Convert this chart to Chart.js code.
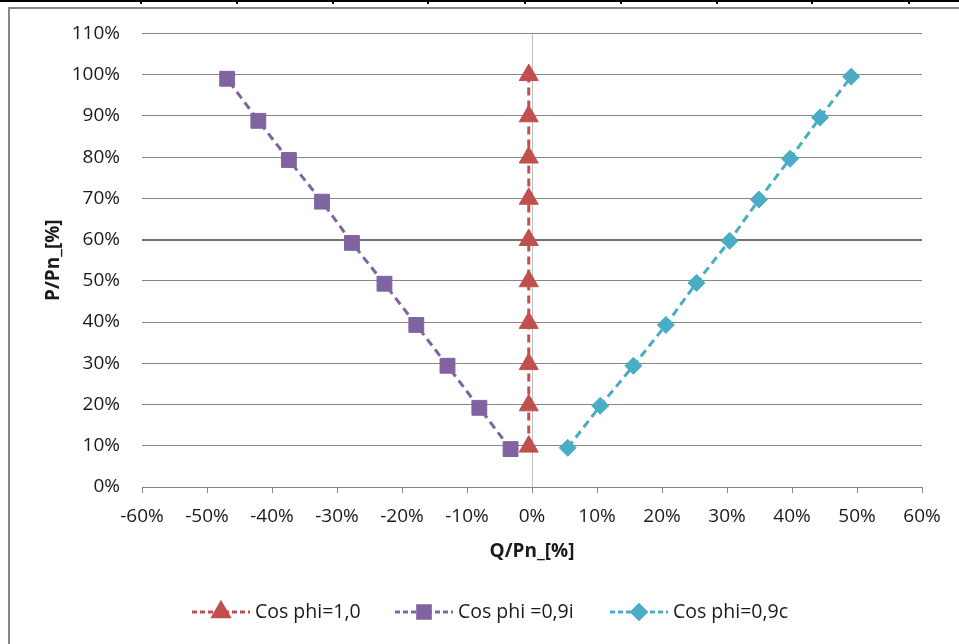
<!DOCTYPE html>
<html>
<head>
<meta charset="utf-8">
<script src="https://cdn.jsdelivr.net/npm/chart.js@4/dist/chart.umd.min.js"></script>
<style>
  body { margin: 0; background: #fff; }
  #page { position: relative; width: 959px; height: 644px; overflow: hidden; }
  #rule { position: absolute; left: 0; top: 0; width: 959px; height: 2px; background: #000; }
  .cell { position: absolute; top: 0; width: 2px; height: 4px; background: #000; }
  #frame { position: absolute; left: 8px; top: 7px; width: 1000px; height: 700px;
           border-left: 2px solid #878787; border-top: 2px solid #878787; }
  #chart { position: absolute; left: 0; top: 0; }
</style>
</head>
<body>
<div id="page">
  <div id="rule"></div>
  <div id="frame"></div>
  <canvas id="chart" width="959" height="644"></canvas>
</div>
<script>
// values (percent of Pn)
const qCos10  = [-0.5, -0.5, -0.5, -0.5, -0.5, -0.5, -0.5, -0.5, -0.5, -0.5];
const pCos10  = [9.8, 19.8, 29.8, 39.8, 49.9, 59.9, 69.9, 79.9, 89.9, 99.9];
const qCos09i = [-3.3, -8.1, -13.0, -17.8, -22.7, -27.7, -32.3, -37.4, -42.1, -46.9];
const pCos09i = [9.2, 19.2, 29.4, 39.3, 49.3, 59.2, 69.2, 79.3, 88.8, 99.0];
const qCos09c = [5.5, 10.5, 15.6, 20.6, 25.3, 30.4, 34.9, 39.7, 44.3, 49.1];
const pCos09c = [9.5, 19.7, 29.4, 39.3, 49.5, 59.7, 69.7, 79.6, 89.6, 99.5];
const seriesNames = ['Cos phi=1,0', 'Cos phi =0,9i', 'Cos phi=0,9c'];
const xTicks = [-60, -50, -40, -30, -20, -10, 0, 10, 20, 30, 40, 50, 60];
const yTicks = [0, 10, 20, 30, 40, 50, 60, 70, 80, 90, 100, 110];

// table borders above the chart
[141, 237, 333, 428, 525, 621, 717, 812, 909].forEach(x => {
    const d = document.createElement('div');
    d.className = 'cell';
    d.style.left = (x - 1) + 'px';
    document.getElementById('page').appendChild(d);
});

function pts(q, p) {
    return q.map((v, i) => ({ x: v, y: p[i] }));
}

function series(label, q, p, color, style, radius) {
    return {
        label: label,
        data: pts(q, p),
        showLine: true,
        borderColor: color,
        backgroundColor: color,
        borderWidth: 3,
        borderDash: [8, 5],
        pointStyle: style,
        pointRadius: radius,
        pointBorderWidth: 1,
        pointBorderColor: color,
        pointBackgroundColor: color,
        tension: 0
    };
}

const datasets = [
    series(seriesNames[0], qCos10, pCos10, '#C0504D', 'triangle', 11),
    series(seriesNames[1], qCos09i, pCos09i, '#8064A2', 'rect', 10.5),
    series(seriesNames[2], qCos09c, pCos09c, '#4BACC6', 'rectRot', 8.5)
];

// excel-like legend: dashed line with the marker in the middle
const lineLegend = {
    id: 'lineLegend',
    afterDraw(chart) {
        const ctx = chart.ctx;
        const starts = [192, 395, 610];
        const y = 612;
        chart.data.datasets.forEach((ds, i) => {
            const x0 = starts[i];
            ctx.save();
            ctx.strokeStyle = ds.borderColor;
            ctx.lineWidth = 3;
            ctx.setLineDash([5, 3]);
            ctx.beginPath();
            ctx.moveTo(x0, y);
            ctx.lineTo(x0 + 58, y);
            ctx.stroke();
            ctx.setLineDash([]);
            ctx.fillStyle = ds.backgroundColor;
            ctx.strokeStyle = ds.borderColor;
            Chart.helpers.drawPoint(ctx, {
                pointStyle: ds.pointStyle,
                radius: ds.pointRadius * 0.85,
                rotation: 0,
                borderWidth: 1
            }, x0 + 29, y);
            ctx.fillStyle = '#1a1a1a';
            ctx.font = "19.5px 'Open Sans'";
            ctx.textAlign = 'left';
            ctx.textBaseline = 'middle';
            ctx.fillText(ds.label, x0 + 63, y);
            ctx.restore();
        });
    }
};

Chart.defaults.font.family = "'Open Sans', sans-serif";
Chart.defaults.font.size = 19;
Chart.defaults.color = '#1a1a1a';

new Chart(document.getElementById('chart').getContext('2d'), {
    type: 'scatter',
    data: { datasets: datasets },
    plugins: [lineLegend],
    options: {
        responsive: false,
        devicePixelRatio: 1,
        animation: false,
        layout: { padding: { top: 33, right: 37, bottom: 70, left: 0 } },
        plugins: {
            legend: { display: false },
            tooltip: { enabled: false }
        },
        scales: {
            x: {
                type: 'linear',
                position: 'bottom',
                min: xTicks[0],
                max: xTicks[xTicks.length - 1],
                afterBuildTicks: s => { s.ticks = xTicks.map(v => ({ value: v })); },
                afterFit: s => { s.height = 87; },
                ticks: { callback: v => v + '%', padding: 12, maxRotation: 0 },
                grid: {
                    color: c => (c.tick && c.tick.value === 0) ? '#bfbfbf' : 'rgba(0,0,0,0)',
                    tickColor: '#868686',
                    tickLength: 6,
                    lineWidth: 1
                },
                border: { color: '#868686', width: 1 },
                title: {
                    display: true,
                    text: 'Q/Pn_[%]',
                    font: { size: 19, weight: 'bold' },
                    padding: { top: 4, bottom: 11 }
                }
            },
            y: {
                min: yTicks[0],
                max: yTicks[yTicks.length - 1],
                afterBuildTicks: s => { s.ticks = yTicks.map(v => ({ value: v })); },
                afterFit: s => { s.width = 142; },
                ticks: { callback: v => v + '%', padding: 22 },
                grid: {
                    color: c => (c.tick && c.tick.value === 60) ? '#707070' : '#868686',
                    lineWidth: c => (c.tick && c.tick.value === 60) ? 2 : 1,
                    drawTicks: false
                },
                border: { display: false },
                title: {
                    display: true,
                    text: 'P/Pn_[%]',
                    font: { size: 19, weight: 'bold' },
                    padding: { top: 42, bottom: 0 }
                }
            }
        }
    }
});
</script>
</body>
</html>
